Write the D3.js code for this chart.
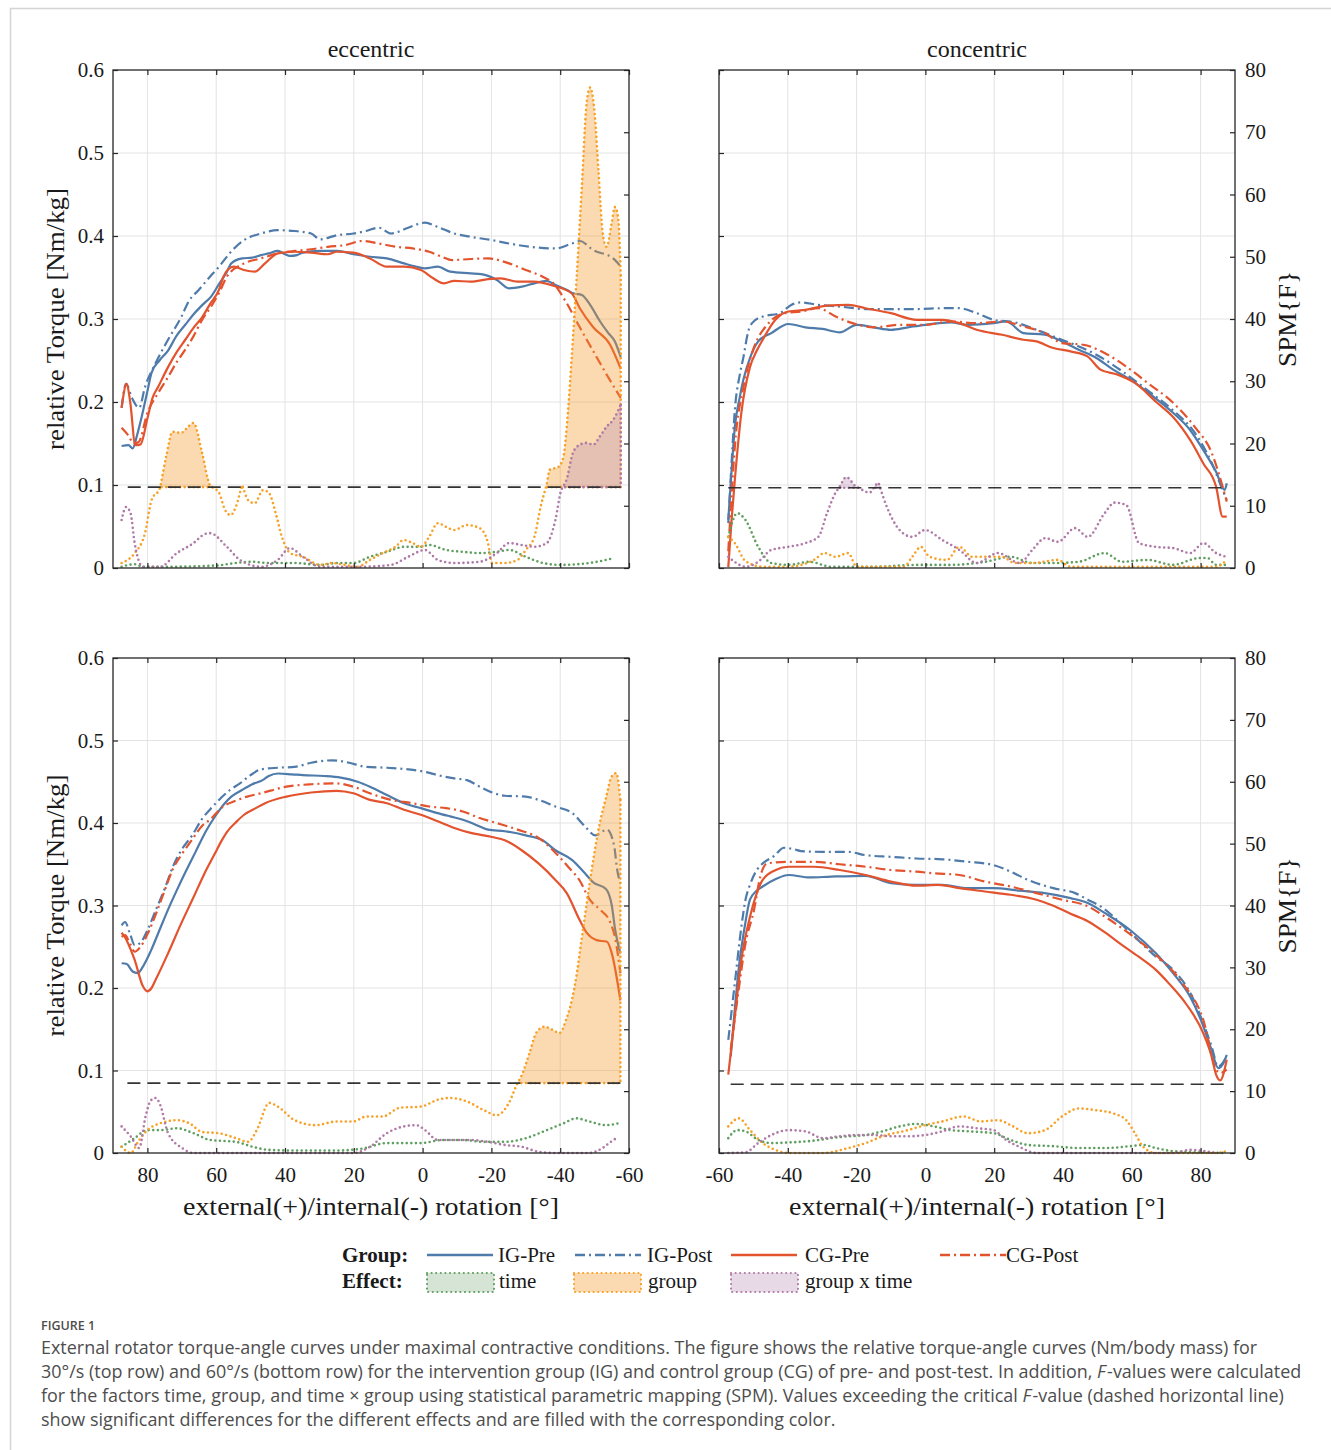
<!DOCTYPE html>
<html>
<head>
<meta charset="utf-8">
<script src="https://d3js.org/d3.v7.min.js"></script>
<style>
  body { margin: 0; background: #fff; }
  svg text { font-family: "Liberation Serif", "Times New Roman", serif; fill: #1a1a1a; }
  svg text.caption { font-family: "Open Sans", sans-serif; fill: #4d4d4d; }
</style>
</head>
<body>
<script>
// ---------- data: [angle in deg, value] ----------
// top row, eccentric 30 deg/s (torque in Nm/kg)
var ecc30IgPre = [[87.5,0.147],[85.5,0.148],[84.3,0.144],[83,0.16],[81.9,0.178],[80,0.213],[78.8,0.235],[76.5,0.25],[74,0.262],[71.5,0.28],[69,0.293],[66.5,0.306],[64,0.317],[61.5,0.327],[59.2,0.342],[57,0.356],[55.6,0.367],[52.5,0.373],[49.5,0.374],[47,0.377],[44.7,0.379],[42.1,0.382],[40,0.378],[38.6,0.376],[36.5,0.377],[34.8,0.38],[29.8,0.382],[24.9,0.382],[20.1,0.378],[15.3,0.375],[10.4,0.373],[5.4,0.367],[1.7,0.363],[-0.7,0.361],[-4.4,0.363],[-8,0.357],[-14,0.355],[-17,0.354],[-21.6,0.347],[-25.1,0.337],[-28.9,0.339],[-32.5,0.343],[-36,0.346],[-38.6,0.341],[-42,0.335],[-43.8,0.331],[-46.3,0.329],[-48.7,0.317],[-51.6,0.297],[-54,0.283],[-55.9,0.273],[-57.6,0.254]];
var ecc30IgPost = [[87.5,0.193],[86.2,0.222],[84.5,0.205],[82.4,0.193],[80.7,0.218],[77.6,0.247],[74,0.275],[70.2,0.302],[67.9,0.322],[65.3,0.334],[62,0.35],[59.2,0.363],[55.5,0.382],[51.9,0.395],[47,0.403],[42.1,0.407],[37.2,0.406],[32.4,0.403],[29.8,0.396],[24.9,0.401],[20.1,0.403],[16.5,0.406],[12.7,0.41],[9.2,0.403],[4.2,0.41],[-0.7,0.416],[-4.4,0.411],[-9.2,0.403],[-14,0.399],[-20.2,0.395],[-25.1,0.391],[-31.2,0.387],[-38.6,0.385],[-43.4,0.391],[-45.7,0.394],[-49.6,0.383],[-55.4,0.373],[-57.6,0.363]];
var ecc30CgPre = [[87.5,0.193],[86,0.222],[85,0.2],[83.5,0.148],[82,0.149],[80,0.18],[78.5,0.205],[76.9,0.218],[74,0.242],[71.5,0.26],[69,0.275],[66.5,0.29],[64.1,0.302],[61.8,0.318],[59.2,0.335],[58,0.35],[56.5,0.36],[54.9,0.363],[51.9,0.359],[48.8,0.357],[45.8,0.367],[42.1,0.379],[37.2,0.381],[32.4,0.38],[27.5,0.378],[25,0.381],[20.1,0.38],[15.3,0.373],[10.4,0.363],[5.4,0.363],[0.5,0.359],[-3.1,0.349],[-6.2,0.343],[-9.2,0.346],[-14,0.345],[-19,0.348],[-22.7,0.349],[-27.6,0.345],[-32.2,0.345],[-38,0.34],[-43.3,0.331],[-45.7,0.313],[-49.6,0.29],[-54.5,0.269],[-57.6,0.24]];
var ecc30CgPost = [[87.5,0.169],[85.6,0.16],[84,0.15],[82.5,0.152],[80,0.187],[77,0.21],[74,0.23],[71.5,0.248],[69,0.263],[66.5,0.28],[64.1,0.299],[61.5,0.315],[59.2,0.331],[56.9,0.351],[51.9,0.367],[47,0.373],[42.1,0.379],[37.2,0.382],[32.4,0.384],[27.5,0.387],[22.6,0.389],[17.6,0.394],[12.7,0.391],[7.8,0.387],[2.9,0.385],[-1.9,0.381],[-5.6,0.375],[-8.6,0.371],[-12.9,0.372],[-19,0.373],[-25.1,0.367],[-30,0.359],[-34.9,0.351],[-38,0.343],[-41.9,0.319],[-45.7,0.29],[-50.6,0.254],[-54.5,0.226],[-57.6,0.205]];
// SPM{F} values
var ecc30Time = [[87.5,0.2],[83.7,0.6],[81.3,0.2],[74,0.2],[60,0.4],[54.3,0.8],[49.5,1],[44.7,0.8],[37.2,0.8],[29.8,0.5],[25,0.8],[20.1,0.8],[15.3,1.8],[10.4,2.6],[5.4,3.4],[0.5,3.4],[-1.9,3.7],[-6.8,2.9],[-11.7,2.6],[-16.6,2.4],[-21.6,2.6],[-25.1,2.9],[-30,1.8],[-35,0.8],[-39.9,0.5],[-48.4,0.8],[-55.7,1.6]];
var ecc30Group = [[87.5,0.8],[83.7,2.4],[80.7,5.6],[78.8,10.9],[76.3,12.9],[74.5,18],[72.7,21.9],[70.2,21.7],[68.5,22.5],[66.6,23.3],[64.1,18.5],[61.8,13.3],[59.2,12.1],[57.4,9.3],[55.8,8.5],[54.3,9.8],[52.5,13.3],[50.7,10.9],[48.8,10.4],[46.4,12.5],[44.7,12.1],[42.7,8.8],[40.9,5],[38.5,2.4],[34.8,1.8],[29.8,0.5],[26.2,0.8],[22.6,0.5],[18.9,0.2],[15.3,1.3],[11.6,2.4],[7.9,3.4],[5.5,4.5],[2.9,4],[0.5,3.4],[-1.9,5],[-4.4,7.2],[-6.8,6.6],[-9.2,6.1],[-12.9,6.9],[-16.6,6.4],[-19,4],[-20.2,0.8],[-23.8,0.8],[-27.6,1.3],[-30,2.9],[-32.5,5],[-34.3,9.8],[-36,13.3],[-37,15.8],[-39.4,16.2],[-40.9,17.8],[-42.3,25.4],[-43.3,33.4],[-44.8,46.8],[-46.3,61.3],[-47.7,74.8],[-48.7,77.2],[-50.1,72.5],[-51.1,64],[-52.5,53.2],[-53.5,51.6],[-55,55.5],[-55.9,58],[-56.9,56],[-57.6,47]];
var ecc30Gxt = [[87.5,7.7],[86.2,9.8],[84.9,8.8],[83.7,4],[81.3,0.2],[76.3,0.2],[71.4,2.4],[66.6,4],[63.5,5.4],[61.8,5.6],[56.9,3.4],[53.1,1.3],[47,0.2],[42.1,1.3],[38.6,3.2],[34.8,1.8],[29.8,0.2],[17.6,0.2],[9.2,0.5],[4.2,1.8],[-0.7,2.9],[-4.4,1.3],[-9.2,0.8],[-16.6,1],[-21.6,2.4],[-25.1,4],[-28.8,3.7],[-32.5,3.4],[-36.1,4],[-38.6,7.7],[-40.3,12.5],[-41.8,14.1],[-43.7,18.5],[-45.7,19.8],[-47.6,20.1],[-49.6,19.8],[-51.5,21.1],[-53.5,22.7],[-55.4,23.8],[-57.6,26.2]];
var ecc30Crit = 13.0;

// top row, concentric 30 deg/s
var con30IgPre = [[-57.3,0.058],[-56.3,0.12],[-55.4,0.17],[-54,0.205],[-52.9,0.227],[-51,0.253],[-48.6,0.273],[-44.8,0.283],[-39.8,0.294],[-34.9,0.29],[-29.9,0.288],[-24.9,0.284],[-20,0.293],[-15,0.29],[-10,0.287],[-5.1,0.29],[-0.1,0.293],[7.4,0.296],[12.3,0.293],[19.8,0.295],[23.5,0.297],[28.5,0.283],[34.7,0.281],[39.7,0.273],[44.6,0.263],[49.7,0.253],[54.6,0.239],[59.6,0.227],[65.8,0.208],[72,0.187],[77,0.166],[80.8,0.142],[84.5,0.116],[87,0.094],[87.6,0.102]];
var con30IgPost = [[-57.3,0.054],[-56.3,0.13],[-55.4,0.19],[-54,0.232],[-52.9,0.254],[-51.5,0.285],[-50.4,0.295],[-47.3,0.303],[-42.3,0.307],[-39,0.317],[-36.2,0.32],[-31.1,0.317],[-24.9,0.315],[-17.4,0.312],[-10,0.312],[-2.5,0.312],[4.9,0.313],[9.9,0.313],[14.9,0.307],[19.8,0.299],[26,0.296],[32.3,0.287],[38.4,0.277],[44.6,0.267],[49.7,0.257],[57.2,0.237],[64.6,0.214],[72,0.19],[78.3,0.163],[83.3,0.126],[86.4,0.094],[87.6,0.082]];
var con30CgPre = [[-57.3,0.001],[-56.3,0.06],[-55.4,0.106],[-53.5,0.187],[-51,0.242],[-49,0.262],[-47.3,0.275],[-43.6,0.299],[-39.8,0.309],[-34.9,0.311],[-28.6,0.316],[-22.4,0.317],[-17.4,0.313],[-10,0.307],[-2.5,0.299],[4.9,0.299],[9.9,0.295],[14.9,0.287],[22.3,0.281],[28.5,0.275],[32.3,0.273],[37.2,0.265],[42.2,0.261],[47.1,0.255],[50.9,0.239],[55.9,0.233],[60.9,0.223],[67.1,0.2],[72,0.182],[77,0.154],[80.8,0.126],[84.5,0.098],[86.4,0.062],[87.6,0.062]];
var con30CgPost = [[-57.3,0.02],[-56.3,0.09],[-55.4,0.146],[-52.9,0.218],[-49.8,0.266],[-46,0.293],[-41,0.307],[-36.2,0.309],[-31.1,0.313],[-26.1,0.303],[-21.2,0.295],[-15,0.29],[-7.5,0.293],[-0.1,0.293],[7.4,0.297],[14.9,0.295],[22.3,0.297],[28.5,0.291],[34.7,0.283],[39.7,0.271],[45.9,0.269],[52.1,0.259],[58.3,0.243],[64.6,0.223],[72,0.199],[78.3,0.17],[83.3,0.138],[86.4,0.098],[87.6,0.08]];
var con30Time = [[-57.3,5],[-54.7,8.8],[-52.3,7.7],[-48.6,3.4],[-44.8,0.8],[-39.8,0.5],[-33.6,1],[-27.4,0.2],[-15,0.2],[-2.5,0.5],[7.4,0.5],[17.4,1],[24.8,1.8],[31.1,0.8],[37.2,0.8],[44.6,1],[52.1,2.4],[57.2,1],[64.6,1.3],[72,0.5],[79.6,1.6],[82,1.6],[84.5,0.5],[87.6,0.5]];
var con30Group = [[-57.3,5],[-55.4,4],[-52.3,1.1],[-47.3,0.2],[-40,0.2],[-32.4,1.3],[-29.3,2.4],[-26.1,1.8],[-22.4,2.4],[-20,0.2],[-6.3,0.2],[-3.8,1.8],[-1.3,3.4],[1.2,1.8],[6.2,1.3],[9.9,3.4],[13.6,1.8],[17.4,1.8],[22.3,1.8],[26,0.8],[31.1,0.8],[38.5,1.3],[42.2,0.2],[84.5,0.2],[87.6,1.3]];
var con30Gxt = [[-57.3,1.8],[-55.5,1],[-52.3,0.2],[-48.6,1],[-44.8,2.9],[-39.8,3.4],[-34.9,4],[-31.1,5],[-28.6,8.8],[-26.1,12.1],[-23,14.6],[-20,13],[-16.2,12.1],[-13.7,13.7],[-11.2,9.8],[-7.5,6.1],[-3.8,5],[-0.1,6.1],[4.9,4.5],[9.9,2.9],[14.9,0.8],[21.1,2.4],[27.4,0.8],[31.1,2.9],[34.8,4.8],[38.5,4.2],[43.5,6.4],[47.2,5],[52.1,8.8],[55,10.5],[58.4,10.1],[62.1,4],[67,3.4],[72,3.2],[77,2.4],[80.8,4],[84.5,2.4],[87.6,1.8]];
var con30Crit = 12.9;

// bottom row, eccentric 60 deg/s
var ecc60IgPre = [[87.5,0.23],[86,0.229],[84.3,0.22],[82.8,0.218],[81.3,0.226],[79,0.245],[76.5,0.27],[74,0.295],[71.5,0.318],[69,0.34],[66,0.365],[63,0.39],[60,0.41],[57.5,0.424],[55.6,0.432],[52.5,0.44],[49.5,0.447],[46.5,0.452],[44.7,0.457],[42,0.46],[38,0.459],[34.8,0.458],[28.7,0.457],[23.8,0.455],[18.9,0.45],[15.3,0.444],[10.4,0.434],[5.4,0.424],[0.5,0.418],[-4.4,0.412],[-8,0.408],[-11.7,0.404],[-15.4,0.398],[-19,0.392],[-23.9,0.39],[-30,0.385],[-34.9,0.379],[-38.6,0.367],[-43.5,0.355],[-47.2,0.339],[-49.6,0.328],[-53.3,0.32],[-55,0.3],[-56,0.27],[-57.5,0.242]];
var ecc60IgPost = [[87.5,0.276],[86.5,0.28],[85,0.265],[83.7,0.252],[82,0.255],[80,0.27],[77.5,0.295],[75,0.32],[72.5,0.348],[70,0.368],[67,0.385],[64.1,0.405],[61,0.42],[59.2,0.428],[56,0.44],[53.1,0.448],[50,0.458],[47,0.465],[42.1,0.467],[37.2,0.468],[32.4,0.473],[26.2,0.476],[21.3,0.473],[16.5,0.468],[10.4,0.467],[4.2,0.465],[-0.7,0.462],[-4.4,0.458],[-9.2,0.454],[-12.9,0.452],[-16.6,0.444],[-20.2,0.437],[-23.9,0.433],[-30,0.432],[-33.7,0.428],[-38.6,0.42],[-43.5,0.412],[-47.2,0.396],[-50.2,0.385],[-53.6,0.392],[-55.7,0.372],[-56.5,0.345],[-57.5,0.327]];
var ecc60CgPre = [[87.5,0.267],[86.3,0.26],[85,0.248],[83.7,0.234],[81.3,0.202],[80,0.196],[78.8,0.2],[77.6,0.21],[74,0.242],[70.2,0.278],[66.6,0.31],[63.5,0.338],[60.5,0.362],[58.5,0.378],[56.9,0.389],[54,0.402],[51.9,0.41],[48.5,0.418],[45.8,0.424],[39.6,0.432],[32.4,0.437],[25,0.439],[20.1,0.436],[15.3,0.428],[10.4,0.424],[5.4,0.416],[0.5,0.41],[-4.4,0.402],[-9.2,0.394],[-14,0.388],[-20.2,0.383],[-23.9,0.379],[-28.8,0.367],[-33.7,0.351],[-38.6,0.331],[-41.9,0.315],[-45.7,0.282],[-47.7,0.267],[-50.6,0.258],[-53.6,0.256],[-55,0.242],[-57.5,0.185]];
var ecc60CgPost = [[87.5,0.262],[86.5,0.264],[85.2,0.255],[83.7,0.244],[82,0.25],[80,0.265],[77.5,0.29],[75,0.318],[72.5,0.345],[70,0.362],[67,0.38],[64,0.397],[61.8,0.404],[58,0.42],[54.3,0.427],[51,0.432],[47,0.436],[39.6,0.444],[32.4,0.447],[25,0.448],[20.1,0.444],[15.3,0.436],[9.2,0.428],[2.9,0.424],[-1.9,0.42],[-6.8,0.418],[-11.7,0.414],[-16.6,0.406],[-21.5,0.4],[-27.6,0.392],[-33.7,0.382],[-38.6,0.364],[-42.3,0.347],[-45.7,0.33],[-48.6,0.307],[-51.6,0.295],[-54.5,0.28],[-56,0.26],[-57.5,0.218]];
var ecc60Time = [[87.5,1],[83.7,2.4],[80,3.7],[76.3,3.7],[71.4,4],[66.6,3.2],[61.7,2.1],[54.3,1.8],[49.4,1],[44.6,0.5],[37.2,0.4],[25,0.4],[17.6,0.7],[10.4,1.6],[5.4,1.6],[0.5,1.6],[-5.6,2.1],[-11.7,2.1],[-17.9,1.8],[-23.9,1.8],[-30,2.4],[-36.1,3.7],[-41,4.8],[-44.7,5.6],[-48.4,5.1],[-53.3,4.5],[-56.9,4.8]];
var ecc60Group = [[87.5,1],[84.9,0],[82.4,2.1],[80,3.7],[76.3,4.8],[71.4,5.3],[67.8,4.8],[64.1,3.4],[59.2,3.2],[54.3,2.4],[50.7,1.8],[48.2,3.7],[44.6,8.1],[42.1,7.5],[37.2,5.3],[31.1,4.5],[25,5.1],[20.1,5.1],[16.4,5.9],[11.6,5.9],[6.7,7.3],[0.5,7.5],[-4.4,8.6],[-8,8.9],[-13,8.3],[-17.9,6.9],[-21.5,6.1],[-25.1,8.1],[-27.6,11.3],[-28.6,12.3],[-31.1,16.2],[-33,19.4],[-35.4,20.4],[-37.8,19.9],[-39.8,19.4],[-41.7,21.5],[-44.2,26.9],[-46.6,36],[-49,45.2],[-51.5,53.3],[-53.4,57.6],[-54.9,60.8],[-56.3,61.4],[-57.5,57]];
var ecc60Gxt = [[87.5,4.3],[84.9,2.7],[82.4,0.8],[80.5,6],[79,8.5],[77.6,8.9],[76.3,7.8],[74,3.2],[69.9,0.8],[66.6,0],[20.1,0],[15.3,1],[10.4,3.2],[5.4,4.3],[1.8,4.5],[-0.7,3.7],[-4.4,2.1],[-9.2,2.1],[-14,2.1],[-19,1.8],[-23.9,1.3],[-28.8,1],[-33.7,0.2],[-38.6,0],[-48.4,0],[-52.3,0.8],[-54.7,1.8],[-56.9,2.6]];
var ecc60Crit = 11.3;

// bottom row, concentric 60 deg/s
var con60IgPre = [[-56.6,0.117],[-55.5,0.17],[-54.2,0.226],[-52.5,0.275],[-51,0.307],[-49,0.318],[-47.3,0.323],[-43.5,0.332],[-39.8,0.337],[-33.6,0.334],[-27.4,0.335],[-17.4,0.336],[-10,0.327],[-2.6,0.325],[4.9,0.325],[12.4,0.321],[19.8,0.321],[27.3,0.318],[34.7,0.315],[42.2,0.309],[47.2,0.303],[52.1,0.291],[59.6,0.27],[67,0.242],[72,0.218],[77,0.189],[80.1,0.161],[83.2,0.125],[85.1,0.103],[86.5,0.108],[87.6,0.119]];
var con60IgPost = [[-57.3,0.137],[-55.4,0.206],[-53.5,0.274],[-52.3,0.307],[-51,0.325],[-49,0.343],[-47.3,0.351],[-44,0.36],[-41.1,0.37],[-38,0.368],[-36.2,0.366],[-29.9,0.365],[-22.4,0.365],[-17.4,0.361],[-10,0.359],[-2.6,0.357],[4.9,0.356],[12.4,0.353],[19.8,0.349],[24.8,0.341],[29.8,0.331],[37.2,0.321],[43.5,0.315],[47.2,0.307],[50.9,0.299],[59.6,0.267],[67,0.238],[72,0.222],[77,0.194],[80.8,0.157],[83.2,0.129],[85.1,0.105],[87,0.113],[87.6,0.118]];
var con60CgPre = [[-57.3,0.095],[-55.4,0.165],[-53.5,0.234],[-51,0.286],[-49,0.315],[-47.3,0.331],[-43.5,0.343],[-39.8,0.347],[-32.4,0.347],[-24.9,0.343],[-17.4,0.337],[-10,0.329],[-2.6,0.324],[3.7,0.325],[9.9,0.321],[17.3,0.317],[24.8,0.313],[32.3,0.307],[37,0.3],[42.2,0.29],[47.2,0.281],[52,0.268],[57.2,0.252],[62,0.238],[67,0.222],[70.9,0.205],[75.9,0.18],[80.8,0.145],[83.2,0.117],[84.5,0.095],[85.7,0.088],[87.6,0.113]];
var con60CgPost = [[-56.6,0.125],[-54.7,0.185],[-52.3,0.254],[-49.8,0.295],[-48,0.335],[-46,0.351],[-39.8,0.353],[-32.4,0.353],[-24.9,0.35],[-17.4,0.347],[-10,0.343],[-2.6,0.341],[2.4,0.339],[9.9,0.337],[17.3,0.329],[24.8,0.323],[32.3,0.315],[39.7,0.307],[47.2,0.299],[52,0.287],[59.6,0.265],[67,0.24],[74.7,0.206],[80.8,0.161],[84.5,0.101],[85.7,0.097],[87.6,0.101]];
var con60Time = [[-57.3,2.4],[-54.7,3.7],[-52.3,3.5],[-48.6,2.1],[-44.8,1.6],[-39.8,1.7],[-32.4,2],[-27.4,2.4],[-22.4,2.7],[-17.4,2.9],[-12.5,3.5],[-7.5,4.3],[-2.6,4.7],[2.4,4.3],[7.4,3.7],[12.4,3.5],[19.8,3.2],[24.8,2.1],[29.8,1.3],[37.2,1.1],[44.6,0.8],[52.1,0.8],[59.6,1.1],[63.3,1.3],[67,0.8],[72,0.3],[87.6,0]];
var con60Group = [[-57.3,4.3],[-54.2,5.6],[-51,3.7],[-47.3,1.6],[-43.6,0.5],[-39.8,0],[-29.9,0],[-22.4,0.8],[-17.4,1.6],[-12.5,2.7],[-5.1,3.7],[-0.1,4.5],[4.9,5.1],[11.1,5.9],[16.1,5.1],[21.1,5.3],[24.8,4.5],[29.8,3.2],[34.8,3.7],[39.7,5.9],[44.6,7.2],[49.7,6.9],[54.6,6.4],[58.4,5.3],[60.9,3.2],[63.3,1],[67,0],[84.5,0],[87.6,0.3]];
var con60Gxt = [[-57.3,0],[-52.3,0.1],[-48.6,1.6],[-44.8,2.9],[-39.8,3.7],[-34.9,3.5],[-29.9,2.4],[-24.9,2.7],[-20,2.9],[-15,2.9],[-10,2.7],[-5.1,2.7],[-0.1,2.9],[4.9,3.5],[9.9,4.3],[14.9,4],[19.8,3.7],[23.5,2.1],[27.3,1],[32.3,0],[72,0],[77,0.5],[84.5,0]];
var con60Crit = 11.1;

var torqueTicks = [0, 0.1, 0.2, 0.3, 0.4, 0.5, 0.6];
var spmTicks = [0, 10, 20, 30, 40, 50, 60, 70, 80];
var angleTicks = [-60, -40, -20, 0, 20, 40, 60, 80];
var groupNames = ["IG-Pre", "IG-Post", "CG-Pre", "CG-Post"];
var effectNames = ["time", "group", "group x time"];

// ---------- styles ----------
var cIG = "#4f7bab", cCG = "#e2532e";
var dashDot = "10,4,2,4";
var dotDash = "0,4.6";
var effectDot = { time: "#5f9f60", group: "#f7a126", gxt: "#b07aa7" };
var effectFill = { time: "#8cb48c", group: "#f59628", gxt: "#be96b9" };
var fillAlpha = 0.36;
var serif = "'Liberation Serif', 'Times New Roman', serif";

var W = 1331, H = 1450;
var svg = d3.select("body").append("svg").attr("width", W).attr("height", H);
svg.append("rect").attr("width", W).attr("height", H).attr("fill", "#fff");
// card frame of the page
svg.append("path").attr("d", "M10.5," + H + "V8.5H" + W)
  .attr("fill", "none").attr("stroke", "#d4d4d4").attr("stroke-width", 1.5);

var panels = [
  { x0: 113, x1: 629, y0: 70, y1: 568, dom: [90, -60], left: true, bottom: false, title: "eccentric",
    lines: [ecc30IgPre, ecc30IgPost, ecc30CgPre, ecc30CgPost], time: ecc30Time, group: ecc30Group, gxt: ecc30Gxt, crit: ecc30Crit },
  { x0: 719, x1: 1235, y0: 70, y1: 568, dom: [-60, 90], left: false, bottom: false, title: "concentric",
    lines: [con30IgPre, con30IgPost, con30CgPre, con30CgPost], time: con30Time, group: con30Group, gxt: con30Gxt, crit: con30Crit },
  { x0: 113, x1: 629, y0: 658, y1: 1153, dom: [90, -60], left: true, bottom: true,
    lines: [ecc60IgPre, ecc60IgPost, ecc60CgPre, ecc60CgPost], time: ecc60Time, group: ecc60Group, gxt: ecc60Gxt, crit: ecc60Crit },
  { x0: 719, x1: 1235, y0: 658, y1: 1153, dom: [-60, 90], left: false, bottom: true,
    lines: [con60IgPre, con60IgPost, con60CgPre, con60CgPost], time: con60Time, group: con60Group, gxt: con60Gxt, crit: con60Crit }
];

var lineStyles = [
  { color: cIG, dash: null }, { color: cIG, dash: dashDot },
  { color: cCG, dash: null }, { color: cCG, dash: dashDot }
];

// insert the points where a series crosses the critical value
function withCrossings(data, c) {
  var out = [];
  data.forEach(function (d, i) {
    if (i > 0) {
      var p = data[i - 1];
      if ((p[1] - c) * (d[1] - c) < 0) {
        var t = (c - p[1]) / (d[1] - p[1]);
        out.push([p[0] + t * (d[0] - p[0]), c]);
      }
    }
    out.push(d);
  });
  return out;
}

function fmtTorque(d) { return d === 0 ? "0" : d.toFixed(1); }

panels.forEach(function (p) {
  var g = svg.append("g");
  var x = d3.scaleLinear().domain(p.dom).range([p.x0, p.x1]);
  var yT = d3.scaleLinear().domain([0, 0.6]).range([p.y1, p.y0]);
  var yF = d3.scaleLinear().domain([0, 80]).range([p.y1, p.y0]);
  // keep pixel x increasing for the monotone curves
  var sortPx = function (arr) { return arr.slice().sort(function (a, b) { return x(a[0]) - x(b[0]); }); };

  // grid
  g.append("g").selectAll("line").data(angleTicks.filter(function (t) { return x(t) > p.x0 + 1 && x(t) < p.x1 - 1; }))
    .join("line").attr("x1", x).attr("x2", x).attr("y1", p.y0).attr("y2", p.y1)
    .attr("stroke", "#e3e3e3").attr("stroke-width", 1);
  g.append("g").selectAll("line").data(torqueTicks.slice(1, -1))
    .join("line").attr("x1", p.x0).attr("x2", p.x1).attr("y1", yT).attr("y2", yT)
    .attr("stroke", "#e3e3e3").attr("stroke-width", 1);

  // torque curves
  var line = d3.line().x(function (d) { return x(d[0]); }).y(function (d) { return yT(d[1]); }).curve(d3.curveMonotoneX);
  p.lines.forEach(function (arr, i) {
    g.append("path").attr("d", line(sortPx(arr))).attr("fill", "none")
      .attr("stroke", lineStyles[i].color).attr("stroke-width", 2.2)
      .attr("stroke-dasharray", lineStyles[i].dash);
  });

  // SPM effects
  var lineF = d3.line().x(function (d) { return x(d[0]); }).y(function (d) { return yF(d[1]); }).curve(d3.curveMonotoneX);
  var effects = [["time", p.time], ["group", p.group], ["gxt", p.gxt]];
  var prepared = effects.map(function (e) { return [e[0], withCrossings(sortPx(e[1]), p.crit)]; });

  // filled regions above the critical value
  prepared.forEach(function (e) {
    var key = e[0], pts = e[1];
    var area = d3.area().defined(function (d) { return d[1] >= p.crit; })
      .x(function (d) { return x(d[0]); }).y0(yF(p.crit)).y1(function (d) { return yF(d[1]); })
      .curve(d3.curveMonotoneX);
    g.append("path").attr("d", area(pts)).attr("fill", effectFill[key]).attr("fill-opacity", fillAlpha);
    // dotted outline along the critical line for each region
    var seg = [];
    pts.forEach(function (d, i) {
      if (d[1] >= p.crit) seg.push(d);
      if ((d[1] < p.crit || i === pts.length - 1) && seg.length > 1) {
        var a = seg[0], b = seg[seg.length - 1];
        g.append("path")
          .attr("d", "M" + x(b[0]) + "," + yF(b[1]) + "L" + x(b[0]) + "," + yF(p.crit) + "L" + x(a[0]) + "," + yF(p.crit))
          .attr("fill", "none").attr("stroke", effectDot[key]).attr("stroke-width", 2.6)
          .attr("stroke-dasharray", dotDash).attr("stroke-linecap", "round");
      }
      if (d[1] < p.crit) seg = [];
    });
  });
  prepared.forEach(function (e) {
    g.append("path").attr("d", lineF(e[1])).attr("fill", "none")
      .attr("stroke", effectDot[e[0]]).attr("stroke-width", 2.6)
      .attr("stroke-dasharray", dotDash).attr("stroke-linecap", "round");
  });

  // critical F threshold
  var span = d3.extent(p.lines[0], function (d) { return d[0]; });
  g.append("line").attr("x1", x(span[0])).attr("x2", x(span[1]))
    .attr("y1", yF(p.crit)).attr("y2", yF(p.crit))
    .attr("stroke", "#333").attr("stroke-width", 1.6).attr("stroke-dasharray", "13,7");

  // axes (inward ticks on all four sides)
  var axB = d3.axisBottom(x).tickValues(angleTicks).tickSize(-5).tickSizeOuter(0).tickPadding(14)
    .tickFormat(function (d) { return p.bottom ? String(d) : ""; });
  var axT = d3.axisTop(x).tickValues(angleTicks).tickSize(-5).tickSizeOuter(0).tickFormat("");
  var axL = d3.axisLeft(yT).tickValues(torqueTicks).tickSize(-5).tickSizeOuter(0).tickPadding(9)
    .tickFormat(function (d) { return p.left ? fmtTorque(d) : ""; });
  var axR = d3.axisRight(yF).tickValues(spmTicks).tickSize(-5).tickSizeOuter(0).tickPadding(10)
    .tickFormat(function (d) { return p.left ? "" : String(d); });
  [[axB, "translate(0," + p.y1 + ")"], [axT, "translate(0," + p.y0 + ")"],
   [axL, "translate(" + p.x0 + ",0)"], [axR, "translate(" + p.x1 + ",0)"]].forEach(function (a) {
    var ag = g.append("g").attr("transform", a[1]).call(a[0]);
    ag.attr("font-family", null).attr("font-size", null);
    ag.select(".domain").remove();
    ag.selectAll(".tick line").attr("stroke", "#262626").attr("stroke-width", 1.2);
    ag.selectAll(".tick text").style("font-family", serif).style("font-size", "21px").attr("fill", "#1a1a1a");
  });
  g.append("rect").attr("x", p.x0).attr("y", p.y0).attr("width", p.x1 - p.x0).attr("height", p.y1 - p.y0)
    .attr("fill", "none").attr("stroke", "#262626").attr("stroke-width", 1.3);

  var cx = (p.x0 + p.x1) / 2, cy = (p.y0 + p.y1) / 2;
  if (p.title) {
    g.append("text").attr("x", cx).attr("y", p.y0 - 13).attr("text-anchor", "middle")
      .attr("font-size", 24).text(p.title);
  }
  if (p.bottom) {
    g.append("text").attr("x", cx).attr("y", p.y1 + 62).attr("text-anchor", "middle")
      .attr("font-size", 25).attr("textLength", 376).attr("lengthAdjust", "spacingAndGlyphs")
      .text("external(+)/internal(-) rotation [\u00b0]");
  }
  if (p.left) {
    g.append("text").attr("transform", "translate(" + (p.x0 - 58) + "," + cy + ") rotate(-90)")
      .attr("text-anchor", "middle").attr("dy", "0.35em").attr("font-size", 25)
      .attr("textLength", 262).attr("lengthAdjust", "spacingAndGlyphs").text("relative Torque [Nm/kg]");
  } else {
    g.append("text").attr("transform", "translate(" + (p.x1 + 52) + "," + cy + ") rotate(-90)")
      .attr("text-anchor", "middle").attr("dy", "0.35em").attr("font-size", 25)
      .attr("textLength", 96).attr("lengthAdjust", "spacingAndGlyphs").text("SPM{F}");
  }
});

// ---------- legend ----------
var lg = svg.append("g").attr("font-size", 21);
lg.append("text").attr("x", 342).attr("y", 1262).attr("font-weight", "bold").text("Group:");
lg.append("text").attr("x", 342).attr("y", 1288).attr("font-weight", "bold").text("Effect:");
var gX = [427, 575, 731, 940], gTx = [498, 647, 805, 1006];
groupNames.forEach(function (n, i) {
  lg.append("line").attr("x1", gX[i]).attr("x2", gX[i] + 66).attr("y1", 1255).attr("y2", 1255)
    .attr("stroke", lineStyles[i].color).attr("stroke-width", 2.4).attr("stroke-dasharray", lineStyles[i].dash);
  lg.append("text").attr("x", gTx[i]).attr("y", 1262).text(n);
});
var eKeys = ["time", "group", "gxt"], eX = [427, 574, 731], eTx = [499, 648, 805];
effectNames.forEach(function (n, i) {
  lg.append("rect").attr("x", eX[i]).attr("y", 1273).attr("width", 67).attr("height", 19)
    .attr("fill", effectFill[eKeys[i]]).attr("fill-opacity", fillAlpha)
    .attr("stroke", effectDot[eKeys[i]]).attr("stroke-width", 2.2).attr("stroke-dasharray", dotDash).attr("stroke-linecap", "round");
  lg.append("text").attr("x", eTx[i]).attr("y", 1288).text(n);
});

// ---------- caption ----------
svg.append("text").attr("class", "caption").attr("x", 41).attr("y", 1330)
  .attr("font-size", 12.5).attr("font-weight", 600).attr("fill", "#555").text("FIGURE 1");
var capLines = [
  [["External rotator torque-angle curves under maximal contractive conditions. The figure shows the relative torque-angle curves (Nm/body mass) for", false]],
  [["30\u00b0/s (top row) and 60\u00b0/s (bottom row) for the intervention group (IG) and control group (CG) of pre- and post-test. In addition, ", false], ["F", true], ["-values were calculated", false]],
  [["for the factors time, group, and time \u00d7 group using statistical parametric mapping (SPM). Values exceeding the critical ", false], ["F", true], ["-value (dashed horizontal line)", false]],
  [["show significant differences for the different effects and are filled with the corresponding color.", false]]
];
var capTexts = capLines.map(function (parts, i) {
  var t = svg.append("text").attr("class", "caption").attr("x", 41).attr("y", 1354 + i * 24).attr("font-size", 16.5);
  parts.forEach(function (pt, j) {
    t.append("tspan").attr("font-style", pt[1] ? "italic" : null)
      .attr("dx", j > 0 && parts[j - 1][1] ? 1.5 : null).text(pt[0]);
  });
  return t;
});
// size the caption font so the widest line spans the same width as the original
var widest = d3.max(capTexts, function (t) { return t.node().getComputedTextLength(); });
var capSize = 16.5 * 1259 / widest;
capTexts.forEach(function (t) { t.attr("font-size", capSize); });
</script>
</body>
</html>
